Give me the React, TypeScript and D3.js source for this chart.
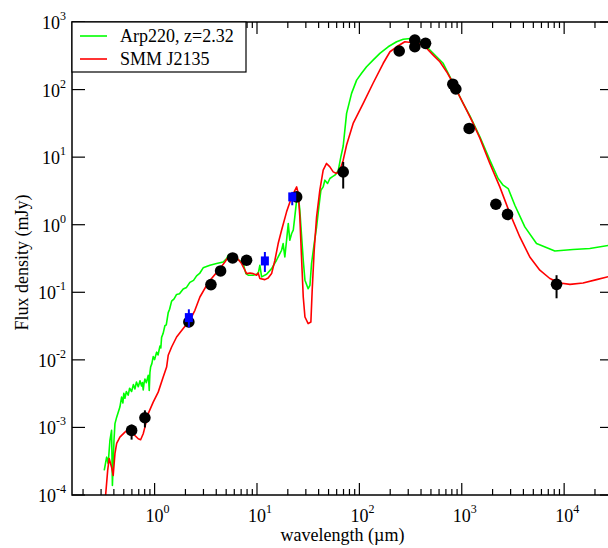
import React from "react";
import * as d3 from "d3";

// ---- data ----
const redWave = [0.332,0.348,0.360,0.380,0.394,0.410,0.426,0.458,0.513,0.552,0.596,0.642,0.692,0.730,0.774,0.804,0.866,0.969,1.084,1.213,1.31,1.358,1.466,1.64,1.902,2.211,2.475,2.77,3.22,3.60,4.34,4.86,5.12,5.44,5.86,6.55,7.07,7.62,7.91,8.53,9.18,9.91,10.27,10.67,11.94,12.86,13.89,14.96,16.1,17.38,19.45,21.8,24.4,25.3,26.2,27.3,28.3,29.4,31.6,33.6,34.6,36.2,38.2,41.1,44.3,47.8,51.5,55.5,59.9,64.5,69.5,75,86.9,109,136,171,199,231,278,335,390,453,526,611,711,824,958,1114,1292,1503,1880,2353,2950,3690,4620,5790,7250,9110,11400,15300,20700,30000];
const redFlux = [9.8e-5,2.31e-4,3.47e-4,2.58e-4,1.95e-4,4.12e-4,5.79e-4,7.18e-4,8.51e-4,9.25e-4,9.04e-4,7.6e-4,6.79e-4,6.58e-4,8.07e-4,1.01e-3,1.6e-3,2.37e-3,3.33e-3,5.56e-3,7.82e-3,0.0117,0.0155,0.0218,0.029,0.0385,0.0541,0.0851,0.127,0.16,0.224,0.281,0.316,0.341,0.333,0.305,0.266,0.212,0.189,0.193,0.189,0.179,0.193,0.16,0.154,0.163,0.189,0.298,0.526,0.829,1.55,2.58,3.63,2.9,1.31,0.298,0.0851,0.0431,0.0344,0.0363,0.107,0.419,1.31,3.24,6.42,8.07,7.18,6.05,5.73,6.42,9.03,15.1,31.5,62.5,124,245,363,430,511,493,472,408,324,258,184,124,78.2,49.7,31.5,19.1,8.07,3.63,1.47,0.659,0.333,0.212,0.16,0.137,0.131,0.137,0.154,0.177];

const greenWave = [0.322,0.34,0.352,0.366,0.38,0.387,0.401,0.41,0.426,0.458,0.476,0.49,0.50,0.513,0.53,0.552,0.57,0.596,0.62,0.642,0.665,0.692,0.72,0.746,0.76,0.774,0.79,0.804,0.83,0.866,0.876,0.886,0.90,0.914,0.94,0.969,1.0,1.046,1.08,1.127,1.15,1.17,1.21,1.26,1.30,1.358,1.40,1.466,1.55,1.64,1.75,1.902,2.05,2.211,2.4,2.57,2.75,2.98,3.47,4.03,4.68,5.05,5.23,5.65,6.32,6.81,7.33,7.79,8.2,9.18,9.91,10.32,10.67,11.09,12.41,13.89,15.5,17.38,18.0,18.7,19.45,20.2,20.9,21.8,22.6,23.4,24.4,25.3,26.2,27.3,28.3,29.4,31.6,32.9,34.1,36.2,38.2,40.2,42.1,44.3,46.0,48.9,51.5,54.2,57.6,62.1,65.9,69.5,75,83.9,94,105,117.5,136,158.5,191,231,268,335,390,470,568,658,765,889,1032,1200,1503,1880,2265,2535,2840,3300,4130,5370,8110,12200,17800,30000];
const greenFlux = [2.31e-4,3.63e-4,2.93e-4,6.41e-4,9.04e-4,1.38e-4,6.41e-4,1.14e-3,1.42e-3,2.0e-3,2.81e-3,2.3e-3,3.2e-3,2.7e-3,3.4e-3,3.0e-3,3.8e-3,3.4e-3,4.3e-3,3.7e-3,4.7e-3,4.0e-3,4.9e-3,4.1e-3,4.6e-3,3.6e-3,4.6e-3,5.2e-3,4.6e-3,5.9e-3,4.8e-3,3.53e-3,6.5e-3,7.82e-3,8.8e-3,0.0112,0.0101,0.0130,0.0118,0.0160,0.0150,0.0215,0.0245,0.0320,0.0330,0.0500,0.0560,0.0740,0.0800,0.0930,0.0950,0.112,0.118,0.140,0.150,0.175,0.190,0.230,0.251,0.266,0.281,0.316,0.353,0.316,0.316,0.291,0.266,0.189,0.179,0.179,0.185,0.196,0.251,0.169,0.185,0.224,0.298,0.419,0.526,0.333,0.589,1.04,0.589,0.741,0.829,1.31,2.31,2.74,1.64,0.659,0.298,0.151,0.113,0.127,0.266,0.526,0.928,1.84,3.24,3.63,4.56,4.07,4.83,5.11,5.41,6.27,10.1,14.6,44.4,87.9,138,174,218,273,344,430,511,555,574,511,408,306,245,155,98.4,62.5,40.7,20.0,9.03,4.83,3.85,3.43,1.94,0.928,0.526,0.409,0.43,0.444,0.506];

const blackWave = [0.596,0.804,2.16,3.55,4.41,5.78,7.91,24.4,69.5,245,348,348,443,818,875,1181,2153,2800,8430];
const blackFlux = [9.04e-4,1.39e-3,0.0363,0.13,0.207,0.322,0.298,2.58,6.05,372,541,430,483,120,102,26.6,2.01,1.42,0.131];
const blackErrLo = [6.6e-4,1.0e-3,null,null,null,null,null,null,3.43,null,null,null,null,null,null,null,null,null,0.0815];
const blackErrHi = [1.1e-3,1.79e-3,null,null,null,null,null,null,8.5,null,null,null,null,null,null,null,null,null,0.179];

const blueWave = [2.16, 11.94, 22.1];
const blueFlux = [0.0422, 0.291, 2.58];
const blueErrLo = [0.0303, 0.2, 1.94];
const blueErrHi = [0.056, 0.395, 3.06];

const xTickExponents = [0, 1, 2, 3, 4];
const yTickExponents = [-4, -3, -2, -1, 0, 1, 2, 3];
const legendLabels = ["Arp220, z=2.32", "SMM J2135"];
const xTitle = "wavelength (\u00b5m)";
const yTitle = "Flux density (mJy)";

// ---- layout ----
const W = 608, H = 548;
const L = 72, T = 22, R = 613, B = 495;
const FONT = "'Liberation Serif', 'Times New Roman', serif";

export default function App() {
  const x = d3.scaleLog().domain([0.156, 30000]).range([L, R]);
  const y = d3.scaleLog().domain([1e-4, 1e3]).range([B, T]);
  const line = d3.line<[number, number]>().x(d => x(d[0])).y(d => y(d[1]));
  const redPts = redWave.map((w, i) => [w, redFlux[i]] as [number, number]);
  const greenPts = greenWave.map((w, i) => [w, greenFlux[i]] as [number, number]);

  const xt = x.ticks();
  const isMajor = (t: number) => Math.abs(Math.log10(t) - Math.round(Math.log10(t))) < 1e-6;

  return (
    <svg width={W} height={H} style={{ position: "absolute", left: 0, top: 0, background: "#fff" }} fontFamily={FONT}>
      <defs>
        <clipPath id="plot"><rect x={L} y={T} width={R - L} height={B - T} /></clipPath>
      </defs>
      <rect x={0} y={0} width={W} height={H} fill="#fff" />
      <g clipPath="url(#plot)">
        <path d={line(greenPts) || ""} fill="none" stroke="#00ff00" strokeWidth={1.6} strokeLinejoin="round" />
        <path d={line(redPts) || ""} fill="none" stroke="#ff0000" strokeWidth={1.6} strokeLinejoin="round" />
        {blackWave.map((w, i) => (
          <g key={"b" + i}>
            {blackErrLo[i] != null && (
              <line x1={x(w)} x2={x(w)} y1={y(blackErrLo[i] as number)} y2={y(blackErrHi[i] as number)} stroke="#000" strokeWidth={2} />
            )}
            <circle cx={x(w)} cy={y(blackFlux[i])} r={5.8} fill="#000" />
          </g>
        ))}
        {blueWave.map((w, i) => (
          <g key={"u" + i}>
            <line x1={x(w)} x2={x(w)} y1={y(blueErrLo[i])} y2={y(blueErrHi[i])} stroke="#0000ff" strokeWidth={2} />
            <rect x={x(w) - 4} y={y(blueFlux[i]) - 4.5} width={8} height={9} fill="#0000ff" />
          </g>
        ))}
      </g>
      {/* frame */}
      <rect x={L} y={T} width={R - L} height={B - T} fill="none" stroke="#000" strokeWidth={1.5} />
      {/* x ticks */}
      {xt.map((t, i) => {
        const px = x(t);
        const len = isMajor(t) ? 12 : 6;
        return (
          <g key={"xt" + i}>
            <line x1={px} x2={px} y1={B} y2={B - len} stroke="#000" strokeWidth={1.2} />
            <line x1={px} x2={px} y1={T} y2={T + len} stroke="#000" strokeWidth={1.2} />
          </g>
        );
      })}
      {xTickExponents.map(e => (
        <text key={"xl" + e} x={x(Math.pow(10, e)) + 3} y={522} fontSize={18} textAnchor="middle">
          10<tspan fontSize={12} dy={-9}>{e}</tspan>
        </text>
      ))}
      {/* y ticks */}
      {yTickExponents.map(e => {
        const py = y(Math.pow(10, e));
        return (
          <g key={"yt" + e}>
            <line x1={L} x2={L + 13} y1={py} y2={py} stroke="#000" strokeWidth={1.2} />
            <line x1={R} x2={R - 13} y1={py} y2={py} stroke="#000" strokeWidth={1.2} />
            <text x={66} y={py + 7} fontSize={18} textAnchor="end">
              10<tspan fontSize={12} dy={-9}>{e}</tspan>
            </text>
          </g>
        );
      })}
      <text x={(L + R) / 2} y={541} fontSize={18} textAnchor="middle">{xTitle}</text>
      <text transform={`translate(28,${(T + B) / 2 + 4}) rotate(-90)`} fontSize={18} textAnchor="middle">{yTitle}</text>
      {/* legend */}
      <rect x={L} y={T} width={174} height={50} fill="#fff" stroke="#000" strokeWidth={1.2} />
      <line x1={80} x2={107} y1={36} y2={36} stroke="#00ff00" strokeWidth={1.6} />
      <line x1={80} x2={107} y1={59} y2={59} stroke="#ff0000" strokeWidth={1.6} />
      <text x={120} y={42} fontSize={18}>{legendLabels[0]}</text>
      <text x={120} y={65} fontSize={18}>{legendLabels[1]}</text>
    </svg>
  );
}
